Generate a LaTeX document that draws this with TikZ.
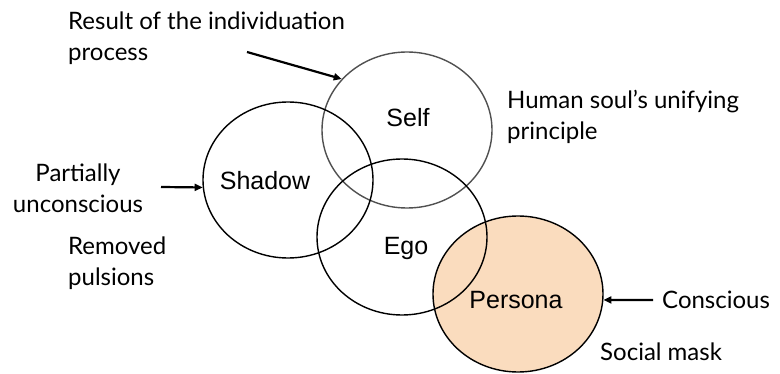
\documentclass[tikz,border=0pt]{standalone}
\usepackage{fontspec}
\setmainfont{Liberation Sans}
\newfontfamily\annfont{Lato}
\usetikzlibrary{shapes.geometric,arrows.meta}
\definecolor{personafill}{HTML}{FADCBE}
\definecolor{selfgray}{HTML}{505050}
\begin{document}
\begin{tikzpicture}[x=1pt,y=-1pt,
  circ/.style={ellipse, draw, line width=1.4pt, minimum width=170pt, minimum height=156pt, inner sep=0pt},
  lbl/.style={font=\fontsize{25}{30}\selectfont, inner sep=0pt},
  ann/.style={font=\annfont\fontsize{24}{31}\selectfont, inner sep=0pt, align=left},
  arr/.style={-{Triangle[length=8pt,width=7pt]}, line width=2.2pt}]
\useasboundingbox (0,0) rectangle (780,374);
\node[circ, fill=personafill] (persona) at (518,294) {};
\node[circ, draw=selfgray] (self) at (407,130) {};
\node[circ] (shadow) at (288,180) {};
\node[circ] (ego) at (402,237) {};
\node[lbl] (selfl) at (408,118) {Self};
\node[lbl] (shadowl) at (265,181) {Shadow};
\node[lbl] (egol) at (406,248) {Ego};
\node[lbl] (personal) at (516,300) {Persona};
\node[ann, anchor=west] (result) at (68,38) {Result of the individuation\\process};
\node[ann, anchor=west] (human) at (507,117) {Human soul’s unifying\\principle};
\node[ann, align=center] (partial) at (78,188) {Partially\\unconscious};
\node[ann, anchor=west] (removed) at (68,263) {Removed\\pulsions};
\node[ann, anchor=west] (conscious) at (662,300) {Conscious};
\node[ann, anchor=west] (social) at (600,352) {Social mask};
\coordinate (r0) at (247,52);
\coordinate (p0) at (161,187);
\draw[arr] (r0) -- (self.142);
\draw[arr] (p0) -- (shadow.185);
\draw[arr] ([xshift=-9pt]conscious.west) -- (persona.356);
\end{tikzpicture}
\end{document}
